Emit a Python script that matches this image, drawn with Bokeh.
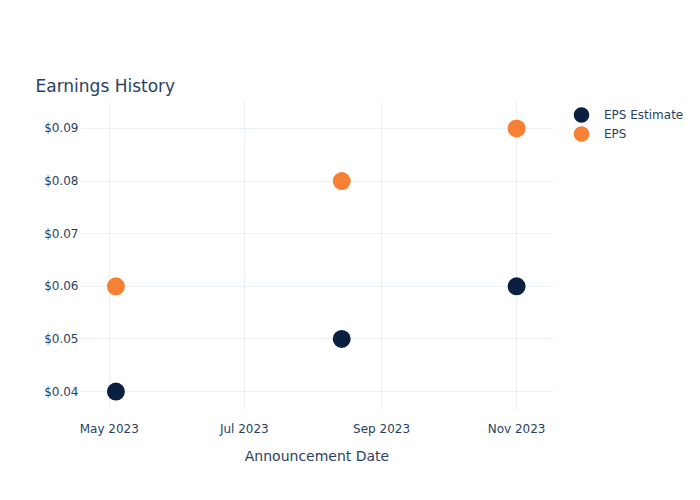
import pandas as pd
from bokeh.plotting import figure
from bokeh.models import (ColumnDataSource, Legend, LegendItem, NumeralTickFormatter,
                          FixedTicker, DatetimeTickFormatter, Range1d, Title)
from bokeh.embed import file_html
from bokeh.resources import INLINE

# ---- data ----
dates = ["2023-05-04", "2023-08-14", "2023-11-01"]
eps_estimate = [0.04, 0.05, 0.06]
eps_actual = [0.06, 0.08, 0.09]
x_tick_dates = ["2023-05-01", "2023-07-01", "2023-09-01", "2023-11-01"]
y_ticks = [0.04, 0.05, 0.06, 0.07, 0.08, 0.09]


def to_ms(d):
    return pd.Timestamp(d).value / 1e6


src = ColumnDataSource(dict(x=[to_ms(d) for d in dates], est=eps_estimate, act=eps_actual))

FONT = "DejaVu Sans"
TXT = "#2a3f5f"
GRID = "#ebf0f8"
C_EST = "#0b1f41"
C_EPS = "#f68033"

p = figure(frame_width=473, frame_height=310, x_axis_type="datetime",
           output_backend="svg", toolbar_location=None,
           x_range=Range1d(to_ms("2023-04-18"), to_ms("2023-11-17 16:00")),
           y_range=Range1d(0.0364, 0.0953),
           min_border_left=80, min_border_right=147, min_border_top=100, min_border_bottom=90)
p.outline_line_color = None
p.background_fill_color = "white"
p.border_fill_color = "white"

# invisible spacer placed between the frame and the title
p.add_layout(Title(text=" ", text_font_size="1px", text_alpha=0, standoff=40), "above")

p.title.text = "Earnings History"
p.title.text_font = FONT
p.title.text_font_size = "17px"
p.title.text_font_style = "normal"
p.title.text_color = TXT
p.title.offset = -45
p.title.standoff = 10

# size + line_width gives ~18px markers; thick outline also enlarges legend glyphs
r1 = p.scatter("x", "est", source=src, size=10, fill_color=C_EST, line_color=C_EST, line_width=8)
r2 = p.scatter("x", "act", source=src, size=10, fill_color=C_EPS, line_color=C_EPS, line_width=8)

p.xaxis.ticker = FixedTicker(ticks=[to_ms(d) for d in x_tick_dates])
p.xaxis.formatter = DatetimeTickFormatter(days="%b %Y", months="%b %Y")
p.yaxis.ticker = FixedTicker(ticks=y_ticks)
p.yaxis.formatter = NumeralTickFormatter(format="$0.00")

for ax in (p.xaxis[0], p.yaxis[0]):
    ax.axis_line_color = None
    ax.major_tick_line_color = None
    ax.minor_tick_line_color = None
    ax.major_tick_out = 0
    ax.major_tick_in = 0
    ax.minor_tick_out = 0
    ax.major_label_text_font = FONT
    ax.major_label_text_font_size = "12px"
    ax.major_label_text_color = TXT
p.yaxis.major_label_standoff = 2
p.xaxis.major_label_standoff = 11

p.xaxis.axis_label = "Announcement Date"
p.xaxis.axis_label_text_font = FONT
p.xaxis.axis_label_text_font_size = "14px"
p.xaxis.axis_label_text_font_style = "normal"
p.xaxis.axis_label_text_color = TXT
p.xaxis.axis_label_standoff = 9

p.xgrid.grid_line_color = GRID
p.ygrid.grid_line_color = GRID

legend = Legend(items=[LegendItem(label="EPS Estimate", renderers=[r1]),
                       LegendItem(label="EPS", renderers=[r2])],
                location="top_left", border_line_color=None,
                background_fill_alpha=0,
                label_text_font=FONT, label_text_font_size="12px", label_text_color=TXT,
                glyph_width=46, glyph_height=19, spacing=0,
                padding=0, margin=5,
                label_standoff=0, label_height=19)
p.add_layout(legend, "right")

open("out.html", "w").write(file_html(p, INLINE))
